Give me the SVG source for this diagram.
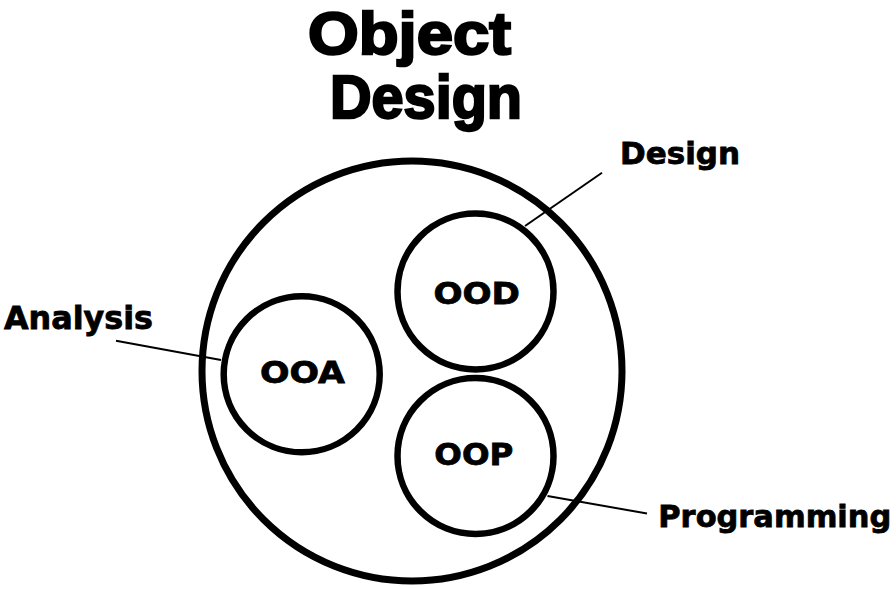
<svg xmlns="http://www.w3.org/2000/svg" width="896" height="589" viewBox="0 0 896 589">
<style>
.ring{fill:none;stroke:#000;stroke-width:7}
.sub{fill:none;stroke:#000;stroke-width:6.5}
.lead{stroke:#000;stroke-width:2;fill:none}
text{font-family:"DejaVu Sans","Liberation Sans",sans-serif;font-weight:bold;fill:#000;stroke:#000;stroke-width:0.8}
.ttl{font-family:"Liberation Sans","DejaVu Sans",sans-serif;stroke-width:2.4}
.lbl{font-size:31px}
</style>
<rect width="896" height="589" fill="#fff"/>
<g id="title">
<text class="ttl" x="308" y="54" font-size="59.5" textLength="203" lengthAdjust="spacingAndGlyphs">Object</text>
<text class="ttl" x="330" y="118" font-size="61" textLength="192" lengthAdjust="spacingAndGlyphs">Design</text>
</g>
<g id="connectors">
<line class="lead" x1="602" y1="172.7" x2="525" y2="226"/>
<line class="lead" x1="116" y1="340.7" x2="221" y2="360"/>
<line class="lead" x1="547.5" y1="496" x2="647" y2="513.5"/>
</g>
<g id="object-design">
<circle class="ring" cx="412" cy="371" r="210"/>
</g>
<g id="ood">
<circle class="sub" cx="475.5" cy="291.5" r="78"/>
<text class="lbl" x="433.5" y="304" textLength="86.5" lengthAdjust="spacingAndGlyphs">OOD</text>
</g>
<g id="ooa">
<circle class="sub" cx="301.7" cy="374.3" r="78"/>
<text class="lbl" x="260" y="383.3" textLength="85" lengthAdjust="spacingAndGlyphs">OOA</text>
</g>
<g id="oop">
<circle class="sub" cx="475.5" cy="456" r="78"/>
<text class="lbl" x="434.3" y="465" textLength="79" lengthAdjust="spacingAndGlyphs">OOP</text>
</g>
<g id="label-design">
<text x="620" y="164.3" font-size="30" textLength="120" lengthAdjust="spacingAndGlyphs">Design</text>
</g>
<g id="label-analysis">
<text x="4" y="329.3" font-size="32" textLength="149" lengthAdjust="spacingAndGlyphs">Analysis</text>
</g>
<g id="label-programming">
<text x="658.3" y="527" font-size="31" textLength="233" lengthAdjust="spacingAndGlyphs">Programming</text>
</g>
</svg>
